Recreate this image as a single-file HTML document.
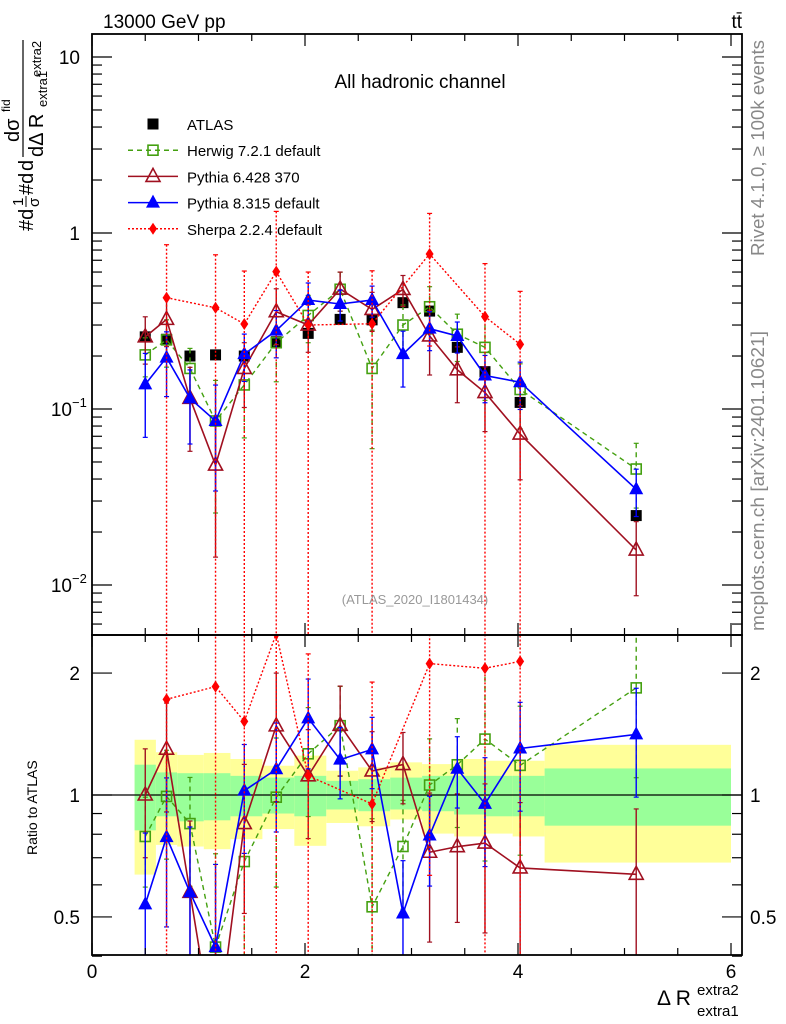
<!DOCTYPE html>
<html><head><meta charset="utf-8"><style>
html,body{margin:0;padding:0;background:#fff;overflow:hidden;width:786px;height:1024px;}
svg{display:block;font-family:"Liberation Sans",sans-serif;}
</style></head><body>
<svg id="chart" width="786" height="1024" viewBox="0 0 786 1024" xmlns="http://www.w3.org/2000/svg">
<defs>
<clipPath id="cm"><rect x="92" y="34" width="650" height="601"/></clipPath>
<clipPath id="cr"><rect x="92" y="635" width="650" height="320"/></clipPath>
</defs>
<g id="bands" clip-path="url(#cr)"></g>
<g id="marks-main" clip-path="url(#cm)"></g>
<g id="marks-ratio" clip-path="url(#cr)"></g>
<g id="axes"></g>
<text x="103" y="28" font-size="19">13000 GeV pp</text>
<text x="742" y="28" font-size="19" text-anchor="end">tt̄</text>
<text x="420" y="88" font-size="19" text-anchor="middle">All hadronic channel</text>
<text x="415" y="604" font-size="13" fill="#999" text-anchor="middle">(ATLAS_2020_I1801434)</text>
<text transform="translate(764,256) rotate(-90)" font-size="18" fill="#888" textLength="216" lengthAdjust="spacingAndGlyphs">Rivet 4.1.0, ≥ 100k events</text>
<text transform="translate(764,631) rotate(-90)" font-size="18" fill="#888" textLength="300" lengthAdjust="spacingAndGlyphs">mcplots.cern.ch [arXiv:2401.10621]</text>
<g font-size="20">
<text transform="translate(33,231) rotate(-90)">#d</text>
<text transform="translate(23,206) rotate(-90)" font-size="15">1</text>
<line x1="26" y1="207" x2="26" y2="196" stroke="#000" stroke-width="1"/>
<text transform="translate(39,207) rotate(-90)" font-size="15">σ</text>
<text transform="translate(33,195) rotate(-90)">#d</text>
<text transform="translate(33,171) rotate(-90)">d</text>
<line x1="23" y1="157" x2="23" y2="40" stroke="#000" stroke-width="1.2"/>
<text transform="translate(19,142) rotate(-90)">dσ</text>
<text transform="translate(10,112) rotate(-90)" font-size="12">fid</text>
<text transform="translate(43,157) rotate(-90)">dΔ R</text>
<text transform="translate(47,107) rotate(-90)" font-size="13">extra1</text>
<text transform="translate(41,77) rotate(-90)" font-size="13">extra2</text>
</g>
<text transform="translate(37,855) rotate(-90)" font-size="14">Ratio to ATLAS</text>
<g>
<text x="657" y="1005" font-size="21">Δ R</text>
<text x="697" y="995" font-size="15">extra2</text>
<text x="697" y="1016" font-size="15">extra1</text>
</g>
<g id="legend" font-size="15"></g>
</svg>
<script>
const xVals=[0.5,0.70,0.92,1.16,1.43,1.73,2.03,2.33,2.63,2.92,3.17,3.43,3.69,4.02,5.11];
const binEdges=[0.4,0.6,0.8,1.05,1.3,1.6,1.9,2.2,2.5,2.8,3.1,3.4,3.7,3.95,4.25,6.0];
const atlas=[0.257,0.249,0.200,0.203,0.200,0.241,0.269,0.323,0.321,0.402,0.360,0.224,0.163,0.109,0.0248];
const herwig=[0.203,0.247,0.170,0.0855,0.137,0.238,0.340,0.479,0.170,0.300,0.381,0.266,0.224,0.129,0.0456];
const pythia6=[0.257,0.323,0.115,0.048,0.170,0.357,0.30,0.48,0.368,0.478,0.26,0.167,0.124,0.072,0.0158];
const pythia8=[0.138,0.196,0.115,0.0855,0.205,0.279,0.416,0.395,0.416,0.205,0.286,0.26,0.155,0.142,0.035];
const sherpaIdx=[1,3,4,5,6,8,10,12,13];
const sherpa=[0.429,0.376,0.304,0.603,0.300,0.305,0.760,0.335,0.233];
const herwigErr=[0.25,0.3,0.3,0.7,0.5,0.4,0.3,0.25,0.65,0.3,0.3,0.3,0.5,0.4,0.4];
const pythia6Err=[0.3,0.3,0.5,0.7,0.4,0.35,0.3,0.25,0.25,0.2,0.4,0.35,0.4,0.45,0.45];
const pythia8Err=[0.5,0.4,0.45,0.6,0.3,0.3,0.25,0.2,0.2,0.35,0.25,0.2,0.3,0.3,0.3];
const sherpaErr=[1.0,1.0,1.0,1.2,1.0,1.0,0.7,1.0,1.0];
const totHi=[1.369,1.275,1.256,1.270,1.227,1.181,1.251,1.148,1.170,1.204,1.192,1.227,1.215,1.215,1.330];
const totLo=[0.636,0.753,0.746,0.735,0.778,0.824,0.749,0.853,0.837,0.870,0.803,0.790,0.803,0.790,0.681];
const statHi=[1.188,1.137,1.132,1.132,1.115,1.104,1.115,1.084,1.094,1.104,1.115,1.115,1.115,1.115,1.163];
const statLo=[0.818,0.886,0.861,0.866,0.886,0.900,0.886,0.921,0.912,0.921,0.912,0.895,0.886,0.886,0.840];
const xTicks=[0,2,4,6];
const NS="http://www.w3.org/2000/svg";
const X=v=>92+v*106.5;
const Y=v=>233-Math.log10(Math.max(v,1e-6))*176;
const R=v=>795-Math.log10(Math.max(v,1e-6))*405;
function mk(p,t,a){const e=document.createElementNS(NS,t);for(const k in a)e.setAttribute(k,a[k]);p.appendChild(e);return e;}
const gb=document.getElementById('bands'),gm=document.getElementById('marks-main'),gr=document.getElementById('marks-ratio'),ga=document.getElementById('axes'),gl=document.getElementById('legend');
for(let i=0;i<totHi.length;i++){
 const x0=X(binEdges[i]),x1=X(binEdges[i+1]);
 let r=mk(gb,'rect',{x:x0,y:R(totHi[i]),width:x1-x0,height:R(totLo[i])-R(totHi[i]),fill:'#ffff99'});
 
 
 r=mk(gb,'rect',{x:x0,y:R(statHi[i]),width:x1-x0,height:R(statLo[i])-R(statHi[i]),fill:'#99ff99'});
 
 
}
let l1=mk(gr,'line',{x1:92,x2:742,y1:R(1),y2:R(1),stroke:'#000','stroke-width':1.2});


function marker(g,type,x,y,col){
 let e;
 if(type==='sqf')e=mk(g,'rect',{x:x-5.5,y:y-5.5,width:11,height:11,fill:'#000'});
 else if(type==='sqo')e=mk(g,'rect',{x:x-5,y:y-5,width:10,height:10,fill:'none',stroke:col,'stroke-width':1.6});
 else if(type==='tro')e=mk(g,'polygon',{points:`${x},${y-8} ${x-7},${y+5} ${x+7},${y+5}`,fill:'none',stroke:col,'stroke-width':1.6});
 else if(type==='trf')e=mk(g,'polygon',{points:`${x},${y-8} ${x-7},${y+5} ${x+7},${y+5}`,fill:col});
 else e=mk(g,'polygon',{points:`${x},${y-6} ${x-4},${y} ${x},${y+6} ${x+4},${y}`,fill:col});
 
 
}
function series(name,xs,vals,errs,ref,col,dash,type,sw){
 [[gm,Y,false],[gr,R,true]].forEach(([g,F,isR])=>{
  const gg=mk(g,'g',{});
  
  
  const pts=xs.map((xv,i)=>{const d=isR?vals[i]/ref[i]:vals[i];return [X(xv),F(d),d];});
  if(errs){pts.forEach((p,i)=>{const lo=p[2]*(1-errs[i]),hi=p[2]*(1+errs[i]);
   const eb=mk(gg,'line',{x1:p[0],x2:p[0],y1:F(hi),y2:F(lo),stroke:col,'stroke-width':1.4,'stroke-dasharray':dash});
   
   
   mk(gg,'line',{x1:p[0]-2.5,x2:p[0]+2.5,y1:F(hi),y2:F(hi),stroke:col,'stroke-width':1.2});
   if(errs[i]<1)mk(gg,'line',{x1:p[0]-2.5,x2:p[0]+2.5,y1:F(lo),y2:F(lo),stroke:col,'stroke-width':1.2});});}
  if(col!=='#000'){const pl=mk(gg,'polyline',{points:pts.map(p=>p[0]+','+p[1]).join(' '),fill:'none',stroke:col,'stroke-width':sw,'stroke-dasharray':dash});
   
   }
  if(!(isR&&col==='#000'))pts.forEach(p=>marker(gg,type,p[0],p[1],col));
 });
}
series('atlas',xVals,atlas,null,atlas,'#000','','sqf',1);
series('herwig',xVals,herwig,herwigErr,atlas,'#44a010','5,4','sqo',1.4);
series('pythia6',xVals,pythia6,pythia6Err,atlas,'#a01020','','tro',1.6);
series('pythia8',xVals,pythia8,pythia8Err,atlas,'#0000ff','','trf',1.6);
series('sherpa',sherpaIdx.map(i=>xVals[i]),sherpa,sherpaErr,sherpaIdx.map(i=>atlas[i]),'#ff0000','2,2','dia',1.4);
[[34,635],[635,955]].forEach(([t,b])=>{const r=mk(ga,'rect',{x:92,y:t,width:650,height:b-t,fill:'none',stroke:'#000','stroke-width':1.8});
 
 });
for(let v=0;v<=6.01;v+=0.5){const x=X(v),L=(Math.abs(v%2)<1e-6)?12:7;
 [[34,1],[635,-1],[635,1],[955,-1]].forEach(([y,d])=>mk(ga,'line',{x1:x,x2:x,y1:y,y2:y+d*L,stroke:'#000','stroke-width':1.2}));}
xTicks.forEach(v=>{const t=mk(ga,'text',{x:X(v),y:978,'font-size':19,'text-anchor':'middle'});t.textContent=v;
 
 });
for(let e=-3;e<=1;e++)for(let m=1;m<10;m++){const v=m*Math.pow(10,e),y=Y(v);if(y<34||y>635)continue;const L=m===1?20:10;
 mk(ga,'line',{x1:92,x2:92+L,y1:y,y2:y,stroke:'#000','stroke-width':1.2});mk(ga,'line',{x1:742,x2:742-L,y1:y,y2:y,stroke:'#000','stroke-width':1.2});}
const yLabs=[[10,'10',''],[1,'1',''],[0.1,'10','−1'],[0.01,'10','−2']];
yLabs.forEach(([v,b,s])=>{const t=mk(ga,'text',{x:s?72:80,y:Y(v)+7,'font-size':19,'text-anchor':'end'});t.textContent=b;
 
 
 if(s){const u=mk(ga,'text',{x:72,y:Y(v)-2,'font-size':13});u.textContent=s;}});
[0.4,0.5,0.6,0.7,0.8,0.9,1,2].forEach(v=>{const y=R(v);const L=(v===0.5||v===1||v===2)?20:10;
 mk(ga,'line',{x1:92,x2:92+L,y1:y,y2:y,stroke:'#000','stroke-width':1.2});mk(ga,'line',{x1:742,x2:742-L,y1:y,y2:y,stroke:'#000','stroke-width':1.2});});
[[2,'2'],[1,'1'],[0.5,'0.5']].forEach(([v,s])=>{let t=mk(ga,'text',{x:80,y:R(v)+7,'font-size':19,'text-anchor':'end'});t.textContent=s;
 
 
 t=mk(ga,'text',{x:750,y:R(v)+7,'font-size':19});t.textContent=s;
 
 });
const legNames=['ATLAS','Herwig 7.2.1 default','Pythia 6.428 370','Pythia 8.315 default','Sherpa 2.2.4 default'];
const legCols=['#000','#44a010','#a01020','#0000ff','#ff0000'];
const legTypes=['sqf','sqo','tro','trf','dia'];
const legDash=['','5,4','','','2,2'];
legNames.forEach((n,i)=>{const y=124+i*26.2;const g=mk(gl,'g',{});
 
 
 if(i>0)mk(g,'line',{x1:128,x2:178,y1:y,y2:y,stroke:legCols[i],'stroke-width':1.5,'stroke-dasharray':legDash[i]});
 marker(g,legTypes[i],153,y,legCols[i]);
 const t=mk(g,'text',{x:187,y:y+6});t.textContent=n;});
</script>
</body></html>
